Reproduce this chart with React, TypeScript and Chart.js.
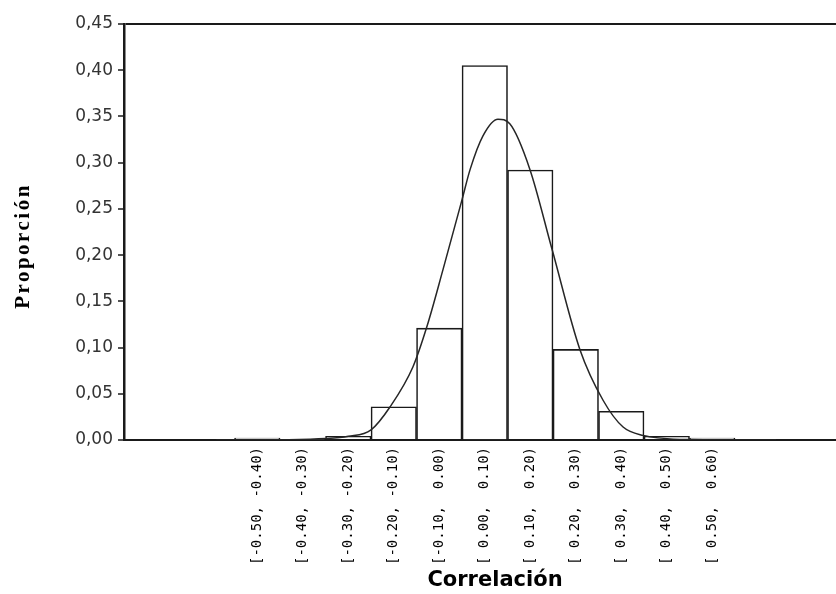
import React, { useEffect, useRef } from "react";
import { Chart, registerables } from "chart.js";

Chart.register(...registerables);

// Histogram bins (centers in correlation units) and their labels
const binCenters = [-0.45, -0.35, -0.25, -0.15, -0.05, 0.05, 0.15, 0.25, 0.35, 0.45, 0.55];
const binLabels = [
  "[-0.50, -0.40)",
  "[-0.40, -0.30)",
  "[-0.30, -0.20)",
  "[-0.20, -0.10)",
  "[-0.10,  0.00)",
  "[ 0.00,  0.10)",
  "[ 0.10,  0.20)",
  "[ 0.20,  0.30)",
  "[ 0.30,  0.40)",
  "[ 0.40,  0.50)",
  "[ 0.50,  0.60)",
];
const binValues = [0.002, 0.001, 0.004, 0.036, 0.121, 0.405, 0.292, 0.098, 0.031, 0.004, 0.002];

// Fitted curve
const curveX = [-0.54, -0.4, -0.3, -0.25, -0.2, -0.158, -0.108, -0.077, -0.042, 0.0, 0.018, 0.046, 0.079, 0.105, 0.149, 0.198, 0.259, 0.31, 0.354, 0.398, 0.5, 0.69];
const curveY = [0.0, 0.0003, 0.0015, 0.004, 0.011, 0.036, 0.079, 0.123, 0.184, 0.26, 0.293, 0.329, 0.347, 0.342, 0.293, 0.206, 0.098, 0.043, 0.014, 0.005, 0.0005, 0.0];

const yTicks = [0, 0.05, 0.1, 0.15, 0.2, 0.25, 0.3, 0.35, 0.4, 0.45];

const xTitle = "Correlación";
const yTitle = "Proporción";

export default function App() {
  const ref = useRef<HTMLCanvasElement | null>(null);

  useEffect(() => {
    if (!ref.current) return;
    const titles = {
      id: "titles",
      afterDraw(chart: any) {
        const ctx = chart.ctx as CanvasRenderingContext2D;
        ctx.save();
        ctx.fillStyle = "#000";
        ctx.textAlign = "center";
        ctx.textBaseline = "middle";
        ctx.font = 'bold 21px "DejaVu Sans"';
        ctx.fillText(xTitle, 495, 581);
        ctx.translate(24, 246);
        ctx.rotate(-Math.PI / 2);
        ctx.font = 'bold 21px "Liberation Serif"';
        try {
          (ctx as any).letterSpacing = "2.5px";
        } catch (e) {}
        ctx.fillText(yTitle, 0, 0);
        ctx.restore();
      },
    };

    const chart = new Chart(ref.current, {
      type: "bar",
      data: {
        datasets: [
          {
            type: "line",
            data: curveX.map((x, i) => ({ x, y: curveY[i] })),
            borderColor: "#262626",
            borderWidth: 1.5,
            pointRadius: 0,
            fill: false,
            cubicInterpolationMode: "monotone",
            order: 0,
          } as any,
          {
            type: "bar",
            data: binCenters.map((x, i) => ({ x, y: binValues[i] })),
            backgroundColor: "#ffffff",
            borderColor: "#1a1a1a",
            borderWidth: 1.6,
            categoryPercentage: 1,
            barPercentage: 1,
            order: 1,
          } as any,
        ],
      },
      options: {
        responsive: false,
        animation: false,
        layout: { padding: { top: 24, right: 0, left: 0, bottom: 0 } },
        plugins: { legend: { display: false }, tooltip: { enabled: false } },
        scales: {
          x: {
            type: "linear",
            min: -0.743,
            max: 0.822,
            offset: false,
            grid: { display: false, drawTicks: false },
            border: { display: true, color: "#1a1a1a", width: 2 },
            afterBuildTicks: (scale: any) => {
              scale.ticks = binCenters.map((v) => ({ value: v }));
            },
            afterFit: (scale: any) => {
              scale.height = 154;
            },
            ticks: {
              autoSkip: false,
              minRotation: 90,
              maxRotation: 90,
              padding: 7,
              color: "#000",
              font: { family: '"DejaVu Sans Mono"', size: 14 },
              callback: (_v: any, i: number) => binLabels[i],
            },
          },
          y: {
            type: "linear",
            min: 0,
            max: 0.45,
            afterBuildTicks: (scale: any) => {
              scale.ticks = yTicks.map((v) => ({ value: v }));
            },
            afterFit: (scale: any) => {
              scale.width = 124;
            },
            grid: {
              drawOnChartArea: true,
              color: (c: any) => (c.index === yTicks.length - 1 ? "#1a1a1a" : "rgba(0,0,0,0)"),
              lineWidth: 2,
              tickColor: "#1a1a1a",
              tickLength: 6,
              tickWidth: 1.5,
            },
            border: { display: true, color: "#1a1a1a", width: 2.5 },
            ticks: {
              padding: 5,
              color: "#333",
              font: { family: '"DejaVu Sans"', size: 17 },
              callback: (v: any) => Number(v).toFixed(2).replace(".", ","),
            },
          },
        },
      },
      plugins: [titles],
    });
    return () => chart.destroy();
  }, []);

  return (
    <div style={{ position: "absolute", left: 0, top: 0, width: 836, height: 594, background: "#fff" }}>
      <canvas ref={ref} width={836} height={594} style={{ display: "block" }} />
    </div>
  );
}
